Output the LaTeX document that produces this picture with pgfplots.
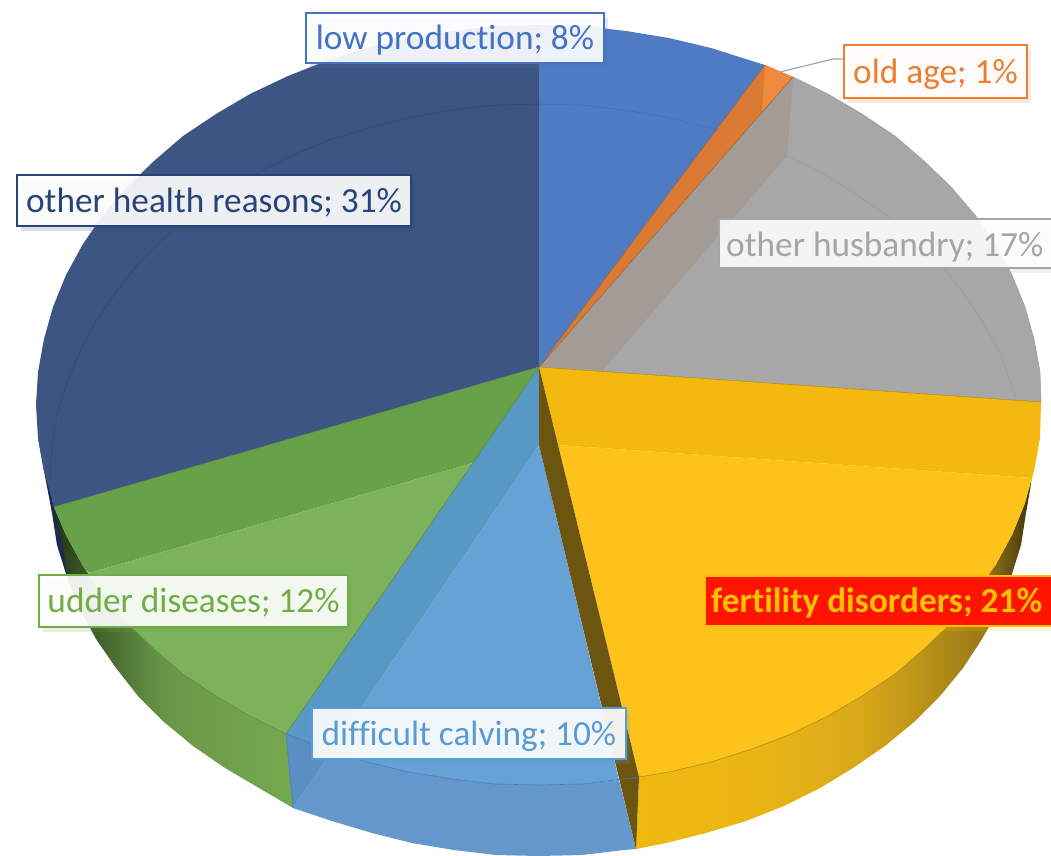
\documentclass[border=0pt]{standalone}
\usepackage{fontspec}
\setmainfont[Ligatures=NoCommon]{Carlito}
\usepackage{pgfplots}
\pgfplotsset{compat=1.18}
\usetikzlibrary{shadows}
\definecolor{navy}{HTML}{3C5583}
\definecolor{navyW}{HTML}{1C2C4A}
\definecolor{navyL}{HTML}{324A78}
\definecolor{bluetop}{HTML}{4F7BC3}
\definecolor{bluearc}{HTML}{466FB5}
\definecolor{orangeA}{HTML}{DB7A35}
\definecolor{orangeB}{HTML}{ED8A3F}
\definecolor{greyT}{HTML}{A7A7A7}
\definecolor{greyS}{HTML}{A39C96}
\definecolor{greyL}{HTML}{9A9A9A}
\definecolor{yelD}{HTML}{F3B90E}
\definecolor{yelB}{HTML}{FEC31A}
\definecolor{yelL}{HTML}{B08A15}
\definecolor{darkS}{HTML}{6B5510}
\definecolor{grnD}{HTML}{67A24B}
\definecolor{grnB}{HTML}{7CB35A}
\definecolor{grnL}{HTML}{5D8A3F}
\definecolor{bluB}{HTML}{67A2D6}
\definecolor{bluD}{HTML}{5898C4}
\definecolor{bluW}{HTML}{6498CB}
\definecolor{bluX}{HTML}{5B8FC4}
\definecolor{bluL}{HTML}{3E7BBF}
\definecolor{cA}{HTML}{4472C4}
\definecolor{cB}{HTML}{ED7D31}
\definecolor{cC}{HTML}{A5A5A5}
\definecolor{cD}{HTML}{FFC000}
\definecolor{cE}{HTML}{5B9BD5}
\definecolor{cF}{HTML}{70AD47}
\definecolor{cG}{HTML}{264478}
\definecolor{redB}{HTML}{FF1400}
\pgfdeclarehorizontalshading{yelwall}{100bp}{rgb(0bp)=(.94,.725,.063); rgb(25bp)=(.94,.725,.063); rgb(40bp)=(.92,.71,.08); rgb(53bp)=(.85,.665,.10); rgb(62bp)=(.72,.565,.094); rgb(69bp)=(.60,.47,.08); rgb(73.5bp)=(.33,.27,.06); rgb(75bp)=(.25,.2,.05); rgb(100bp)=(.25,.2,.05)}
\pgfdeclarehorizontalshading{grnwall}{100bp}{rgb(0bp)=(.13,.2,.09); rgb(25bp)=(.13,.2,.09); rgb(29bp)=(.2,.3,.13); rgb(36.7bp)=(.28,.42,.19); rgb(45bp)=(.38,.55,.26); rgb(51bp)=(.42,.6,.29); rgb(75bp)=(.46,.66,.31); rgb(100bp)=(.46,.66,.31)}
\newcommand{\lf}{\fontsize{35.3}{40}\selectfont}
\newcommand{\lab}[7]{% x1,y1,x2,y2,colour,text,textcolour
  \draw[draw=#5,line width=2.6pt,fill=white,fill opacity=.91,draw opacity=1,drop shadow={shadow xshift=4pt,shadow yshift=-5pt,opacity=.18,fill=#5}] (axis cs:#1,#2) rectangle (axis cs:#3,#4);
  \node[text=#7,inner sep=0pt,font=\lf,yshift=-3.5pt] at (axis cs:{(#1+#3)/2},{(#2+#4)/2}) {\strut #6};}
\begin{document}
\begin{tikzpicture}
\path[use as bounding box,clip] (0,0) rectangle (1051pt,855pt);
\begin{axis}[at={(0,0)},anchor=south west,scale only axis,width=1051pt,height=855pt,
  xmin=0,xmax=1051,ymin=0,ymax=855,y dir=reverse,hide axis,clip=false,no markers,
  every axis plot/.append style={line join=round}]
% navy wall sliver
\addplot[draw=none,fill=navyW] coordinates {(38,438)(44,471)(52,513)(57,545)(67,577)(72,575)(62,530)(54,507)};
% green wall
\addplot[draw=none,shading=grnwall] coordinates {(54,507)(66,535)(83,566)(103,595)(127,623)(154,649)(183,674)(216,696)(250,716)(286,734)(293,808)(259,788)(225,768)(193,746)(164,722)(138,696)(116,668)(96,639)(80,609)(68,580)(62,540)};
% yellow wall
\addplot[draw=none,shading=yelwall] coordinates {(639,777)(669,772)(711,762)(752,749)(791,734)(828,716)(862,696)(895,674)(924,649)(951,623)(975,595)(995,566)(1012,535)(1025,503)(1032,475)(1030,490)(1026,513)(1021,545)(1011,577)(999,609)(982,639)(963,668)(940,696)(914,722)(885,746)(853,768)(820,788)(784,806)(746,821)(706,833)(666,843)(636,849)};
% blue wall
\addplot[draw=none,fill=bluW] coordinates {(332,751)(367,762)(409,772)(452,779)(495,784)(539,785)(583,784)(619,780)(636,849)(624,850)(582,855)(539,856)(496,855)(454,850)(412,843)(372,833)(332,821)(293,808)};
\addplot[draw=none,fill=bluX] coordinates {(286,734)(293,808)(332,751)};
% tops
\addplot[draw=none,fill=navy] coordinates {(539,367)(54,507)(44,471)(38,438)(36,405)(38,372)(44,339)(53,307)(66,275)(83,244)(103,215)(127,187)(154,161)(183,136)(216,114)(250,94)(288,76)(326,61)(367,48)(409,38)(452,31)(495,26)(539,25)};
\addplot[draw=none,fill=bluetop] coordinates {(539,367)(539,25)(583,26)(626,31)(669,38)(711,48)(752,61)(765,65)};
\addplot[draw=none,fill=orangeA] coordinates {(539,367)(765,65)(793,77)};
\addplot[draw=none,fill=orangeB] coordinates {(765,65)(793,77)(762,112)};
\addplot[draw=none,fill=greyT] coordinates {(539,367)(793,77)(828,94)(862,114)(895,136)(924,161)(951,187)(975,215)(995,244)(1012,275)(1025,307)(1034,339)(1040,372)(1041,402)};
\addplot[draw=none,fill=greyS] coordinates {(539,367)(793,77)(787,156)(603,370)};
\addplot[draw=none,fill=yelD] coordinates {(539,367)(1041,402)(1040,438)(1034,471)(1032,478)(558,445)};
\addplot[draw=none,fill=yelB] coordinates {(558,445)(1032,478)(1025,503)(1012,535)(995,566)(975,595)(951,623)(924,649)(895,674)(862,696)(828,716)(791,734)(752,749)(711,762)(669,772)(639,777)};
\addplot[draw=none,fill=grnD] coordinates {(539,367)(54,507)(66,535)(83,566)(89,573)(473,463)};
\addplot[draw=none,fill=grnB] coordinates {(473,463)(89,573)(103,595)(127,623)(154,649)(183,674)(216,696)(250,716)(286,734)};
\addplot[draw=none,fill=bluD] coordinates {(539,367)(286,734)(332,751)(539,445)};
\addplot[draw=none,fill=bluB] coordinates {(539,445)(332,751)(367,762)(409,772)(452,779)(495,784)(539,785)(583,784)(619,780)};
\addplot[draw=none,fill=darkS] coordinates {(539,367)(639,777)(636,849)(539,445)};
% inner arcs
\addplot[navyL,line width=.6pt] coordinates {(50,480)(52,447)(57,415)(67,383)(80,351)(96,321)(116,292)(138,264)(164,238)(193,214)(225,192)(259,172)(295,154)(332,139)(372,127)(412,117)(454,110)(496,105)(539,104)};
\addplot[bluearc,line width=.6pt] coordinates {(539,104)(582,105)(624,110)(666,117)(706,127)(717,130)};
\addplot[greyL,line width=.5pt] coordinates {(787,156)(820,172)(853,192)(885,214)(914,238)(940,264)(963,292)(982,321)(999,351)(1011,383)(1016,398)};
% rim and slice edges
\addplot[yelL,line width=.6pt] coordinates {(639,777)(669,772)(711,762)(752,749)(791,734)(828,716)(862,696)(895,674)(924,649)(951,623)(975,595)(995,566)};
\addplot[grnL,line width=.6pt] coordinates {(83,566)(103,595)(127,623)(154,649)(183,674)(216,696)(250,716)(286,734)(539,367)};
\addplot[bluL,line width=.6pt] coordinates {(286,734)(326,749)(367,762)(409,772)(452,779)(495,784)(539,785)(583,784)(639,777)};
\addplot[bluL,line width=.6pt] coordinates {(286,734)(293,808)};
\addplot[yelL,line width=.6pt] coordinates {(539,367)(1041,402)};
\addplot[grnL,line width=.6pt] coordinates {(539,367)(54,507)};
\addplot[orangeA!70!black,line width=.4pt] coordinates {(765,65)(539,367)(793,77)};
\addplot[greyL,line width=.5pt] coordinates {(793,77)(828,94)(862,114)(895,136)(924,161)(951,187)(975,215)(995,244)(1012,275)(1025,307)(1034,339)(1040,372)(1041,402)};
% leader
\addplot[cC,line width=1.2pt] coordinates {(780,72)(833,59)(844,59)};
% labels
\lab{306}{13}{604}{63}{cA}{low production; 8\%}{cA}
\lab{844}{45}{1027}{98}{cB}{old age; 1\%}{cB}
\draw[draw=cC,line width=1.4pt,fill=white,fill opacity=.88,draw opacity=1,drop shadow={shadow xshift=4pt,shadow yshift=-5pt,opacity=.18,fill=cC}] (axis cs:719,219) rectangle (axis cs:1070,268);
\node[text=cC,inner sep=0pt,anchor=west,font=\lf,yshift=-3.5pt] at (axis cs:726,245) {\strut other husbandry; 17\%};
\draw[draw=cD,line width=2pt,fill=redB,drop shadow={shadow xshift=4pt,shadow yshift=-5pt,opacity=.18,fill=cD}] (axis cs:705,576) rectangle (axis cs:1070,626);
\node[text=cD,inner sep=0pt,anchor=west,font=\lf\bfseries,yshift=-3.5pt] at (axis cs:711,601) {\strut fertility disorders; 21\%};
\lab{312}{708}{626}{759}{cE}{difficult calving; 10\%}{cE}
\lab{39}{575}{348}{627}{cF}{udder diseases; 12\%}{cF}
\lab{17}{175}{411}{226}{cG}{other health reasons; 31\%}{cG}
\end{axis}
\end{tikzpicture}
\end{document}
